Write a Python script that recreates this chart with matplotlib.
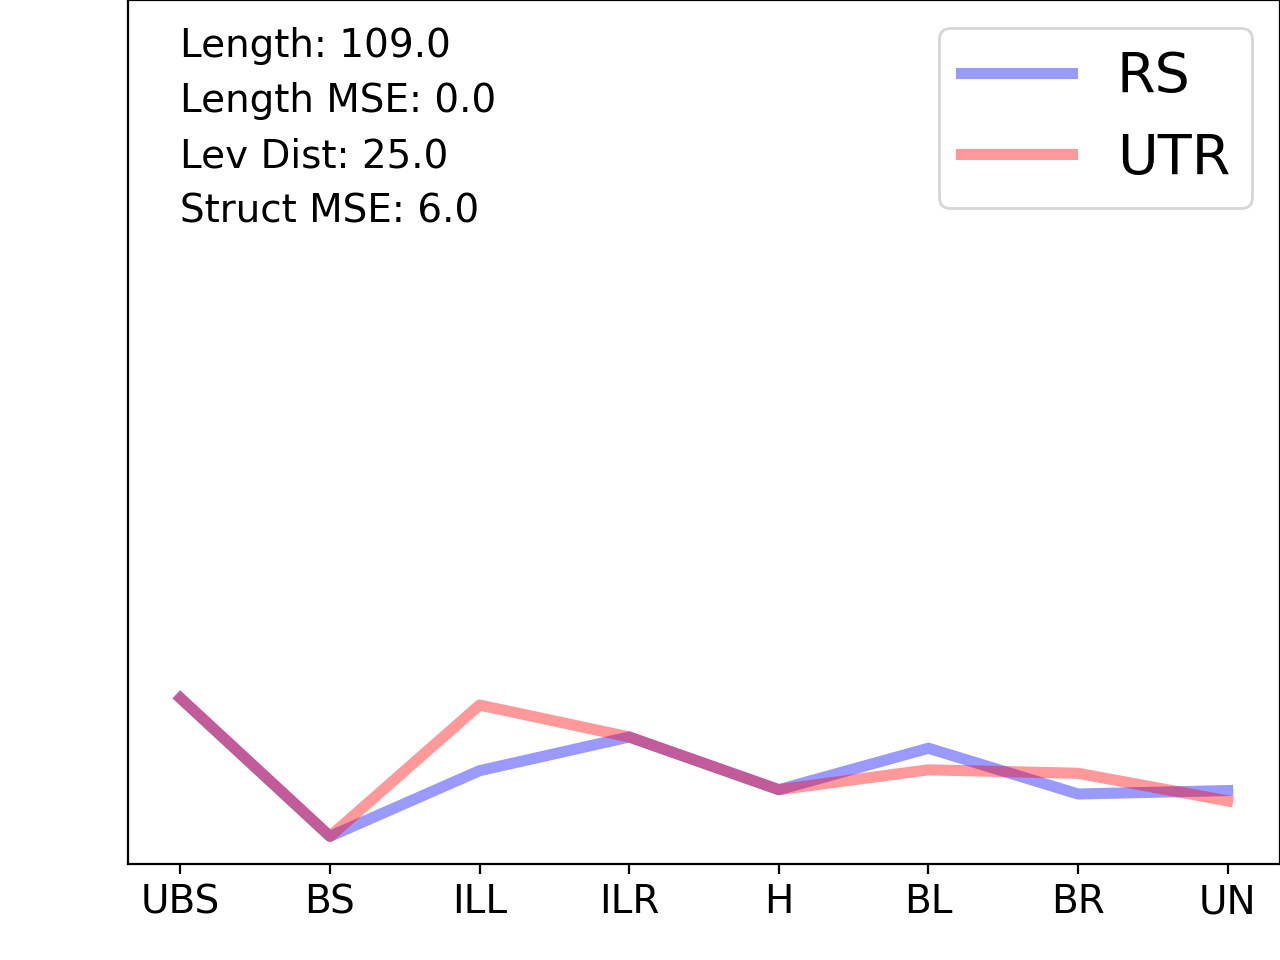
import matplotlib
matplotlib.use("Agg")
import matplotlib.pyplot as plt
import matplotlib.transforms as mtransforms

labels = ['UBS', 'BS', 'ILL', 'ILR', 'H', 'BL', 'BR', 'UN']
rs = [0.192, 0.032, 0.108, 0.147, 0.086, 0.134, 0.081, 0.085]
utr = [0.192, 0.032, 0.184, 0.147, 0.086, 0.109, 0.105, 0.073]
stats = ['Length: 109.0', 'Length MSE: 0.0', 'Lev Dist: 25.0', 'Struct MSE: 6.0']

fig = plt.figure(figsize=(6.4, 4.8), dpi=200)
ax = fig.add_axes([0.1, 0.1, 0.9, 0.9])

x = range(len(labels))
ax.plot(x, rs, color='blue', alpha=0.4, lw=4, label='RS')
ax.plot(x, utr, color='red', alpha=0.4, lw=4, label='UTR')

ax.set_xticks(list(x))
ax.set_xticklabels(labels, fontsize=14)
ax.set_yticks([])
ax.set_ylim(0, 1)

# stats block, left edge aligned with first tick
trans = mtransforms.blended_transform_factory(ax.transData, ax.transAxes)
for i, s in enumerate(stats):
    ax.text(0, 0.934 - i * 0.064, s, fontsize=14, va='baseline', ha='left', transform=trans)

ax.legend(loc='upper right', fontsize=20)

fig.savefig('out.png', dpi=200)
